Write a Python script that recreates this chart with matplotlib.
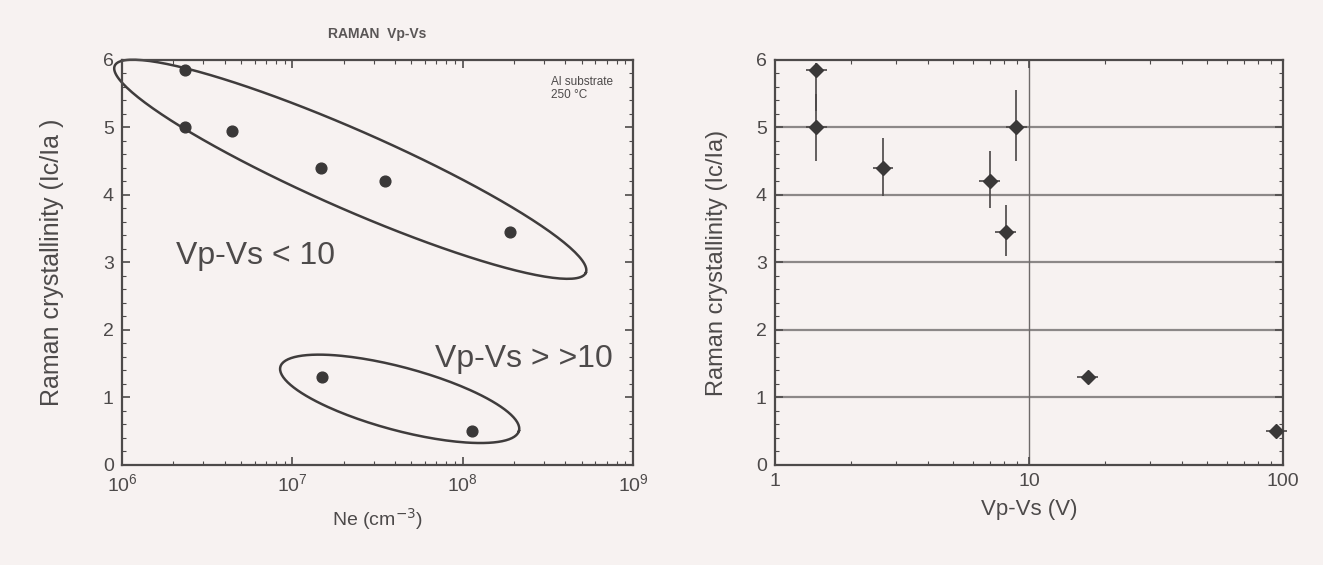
import numpy as np
import matplotlib.pyplot as plt
from matplotlib.ticker import MultipleLocator, LogLocator, NullFormatter, FixedLocator, FixedFormatter

plt.rcParams["font.family"] = ["Liberation Sans", "DejaVu Sans"]

ink = "#4d4a4a"
paper = "#f7f2f1"

# Ne vs crystallinity (Al substrate, 250 C)
ne_low = [2.35e6, 2.35e6, 4.4e6, 1.48e7, 3.5e7, 1.9e8]
xc_low = [5.85, 5.0, 4.95, 4.4, 4.2, 3.45]
ne_high = [1.5e7, 1.13e8]
xc_high = [1.3, 0.5]

# Vp-Vs vs crystallinity
vpvs = [1.45, 1.45, 2.66, 7.0, 8.1, 8.9, 17.0, 94.0]
xc = [5.85, 5.0, 4.4, 4.2, 3.45, 5.0, 1.3, 0.5]
xc_err_lo = [0.6, 0.5, 0.42, 0.4, 0.35, 0.5, 0.05, 0.05]
xc_err_hi = [0.1, 0.5, 0.45, 0.45, 0.4, 0.55, 0.05, 0.05]

# group outlines: centre (log10 Ne, crystallinity), axes in decades, tilt in degrees
groups = [
    dict(c=(7.34, 4.38), w=3.02, h=0.46, ang=-23.7),
    dict(c=(7.63, 0.98), w=1.45, h=0.37, ang=-15.0),
]
px_per_decade = 170.0
px_per_unit = 67.3


def ellipse_xy(c, w, h, ang, n=200):
    t = np.linspace(0, 2 * np.pi, n)
    a = np.radians(ang)
    u = 0.5 * w * np.cos(t)
    v = 0.5 * h * np.sin(t)
    du = u * np.cos(a) - v * np.sin(a)
    dv = u * np.sin(a) + v * np.cos(a)
    x = 10 ** (c[0] + du)
    y = c[1] + dv * px_per_decade / px_per_unit
    return x, y


fig = plt.figure(figsize=(13.23, 5.65), dpi=100, facecolor=paper)
ax1 = fig.add_axes([0.0922, 0.177, 0.3863, 0.717])
ax2 = fig.add_axes([0.5858, 0.177, 0.3840, 0.717])

for ax in (ax1, ax2):
    ax.set_facecolor(paper)
    for s in ax.spines.values():
        s.set_color(ink)
        s.set_linewidth(1.6)
    ax.tick_params(which="both", direction="in", colors=ink, top=True, right=True,
                   labelsize=14, pad=6)
    ax.tick_params(which="major", length=6, width=1.2)
    ax.tick_params(which="minor", length=3, width=0.8)
    ax.set_ylim(0, 6)
    ax.yaxis.set_major_locator(MultipleLocator(1))
    ax.yaxis.set_minor_locator(MultipleLocator(0.2))

# left panel
ax1.set_xscale("log")
ax1.set_xlim(1e6, 1e9)
ax1.xaxis.set_minor_locator(LogLocator(base=10, subs=np.arange(2, 10)))
ax1.xaxis.set_minor_formatter(NullFormatter())
ax1.scatter(ne_low, xc_low, s=60, color="#3a3838", zorder=3)
ax1.scatter(ne_high, xc_high, s=60, color="#3a3838", zorder=3)
for g in groups:
    ex, ey = ellipse_xy(g["c"], g["w"], g["h"], g["ang"])
    ax1.plot(ex, ey, color="#3f3c3c", lw=1.8, clip_on=False, zorder=2)
ax1.set_xlabel("Ne (cm$^{-3}$)", fontsize=14, color=ink, labelpad=8)
ax1.set_ylabel("Raman crystallinity (Ic/Ia )", fontsize=18, color=ink, labelpad=28)
ax1.set_title("RAMAN  Vp-Vs", fontsize=10, fontweight="bold", color="#5a5656", pad=16)
ax1.text(0.84, 0.96, "Al substrate\n250 \u00b0C", transform=ax1.transAxes, fontsize=8.5,
         color=ink, ha="left", va="top", linespacing=1.1)
ax1.text(0.105, 0.495, "Vp-Vs < 10", transform=ax1.transAxes, fontsize=23, color=ink)
ax1.text(0.612, 0.242, "Vp-Vs > >10", transform=ax1.transAxes, fontsize=23, color=ink)

# right panel
ax2.set_xscale("log")
ax2.set_xlim(1, 100)
ax2.xaxis.set_major_locator(FixedLocator([1, 10, 100]))
ax2.xaxis.set_major_formatter(FixedFormatter(["1", "10", "100"]))
ax2.xaxis.set_minor_locator(LogLocator(base=10, subs=np.arange(2, 10)))
ax2.xaxis.set_minor_formatter(NullFormatter())
for yv in range(1, 6):
    ax2.axhline(yv, color="#8c8888", lw=1.6, zorder=1)
ax2.axvline(10, color="#6e6a6a", lw=1.0, zorder=1)
vpvs_a = np.array(vpvs)
ax2.errorbar(vpvs, xc, yerr=[xc_err_lo, xc_err_hi],
             xerr=[vpvs_a * 0.09, vpvs_a * 0.1],
             fmt="D", ms=7, color="#3a3838", ecolor="#4a4646", elinewidth=1.2,
             capsize=0, zorder=3, clip_on=False)
ax2.set_xlabel("Vp-Vs (V)", fontsize=16, color=ink, labelpad=6)
ax2.set_ylabel("Raman crystallinity (Ic/Ia)", fontsize=17, color=ink, labelpad=20)

fig.savefig("out.png", dpi=100, facecolor=paper)
